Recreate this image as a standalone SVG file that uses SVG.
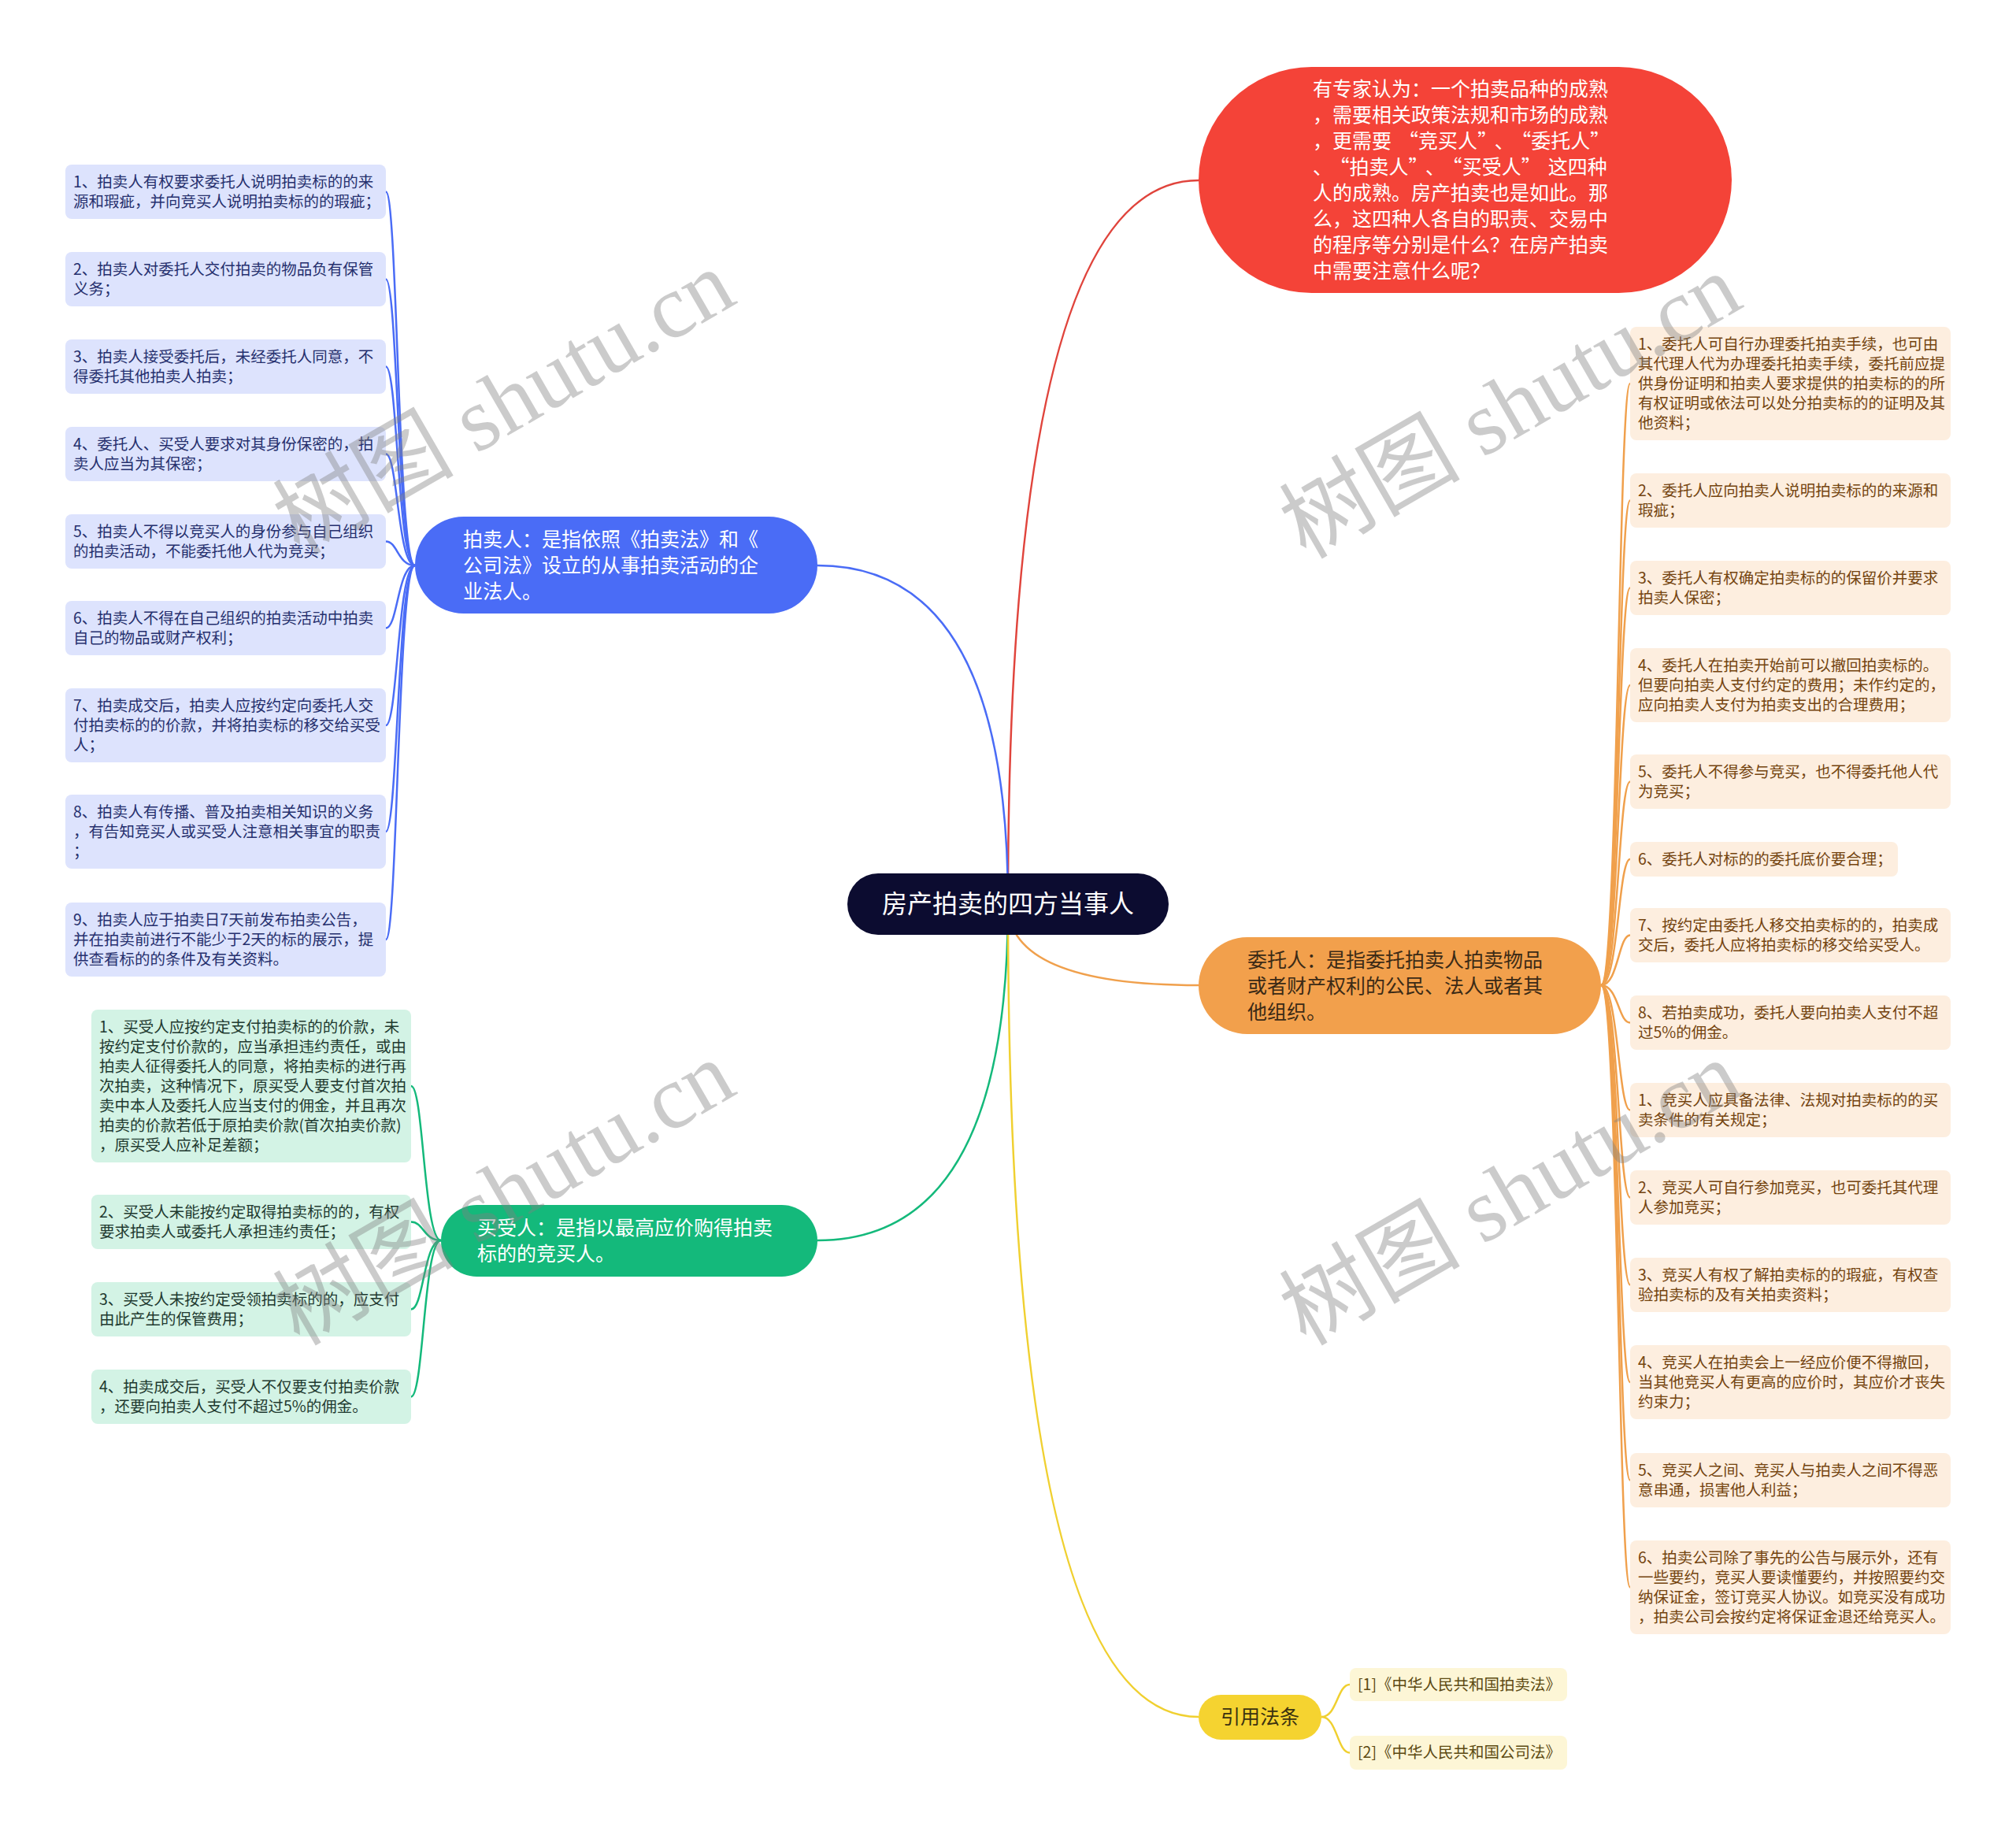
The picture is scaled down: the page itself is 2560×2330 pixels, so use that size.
<svg xmlns="http://www.w3.org/2000/svg" width="2560" height="2330" viewBox="0 0 2560 2330">
<style>
text{font-family:"Noto Sans CJK SC","Noto Sans",sans-serif}
.s{font-size:19.5px}
.m{font-size:25px}
.wm{font-family:"Liberation Serif","Noto Sans CJK SC",serif;font-size:115px;fill:#808080;opacity:.4}
.bb{fill:#dde3fd}.bt{fill:#26306e}
.ob{fill:#fdeedf}.ot{fill:#74440f}
.gb{fill:#d3f3e5}.gt{fill:#1f3a30}
.yb{fill:#fdf6d6}.yt{fill:#5c4a12}
.c{fill:none;stroke-width:2.5}
.cb{stroke:#4a6cf6}.co{stroke:#f0a04c}.cg{stroke:#14b97b}.cy{stroke:#f0d030}.cr{stroke:#e0443c}
</style>
<rect width="2560" height="2330" fill="#ffffff"/>
<g id="connectors">
<path class="c cr" d="M1280 1148 Q1280 229 1522 229"/>
<path class="c cb" d="M1280 1148 Q1280 718 1038 718"/>
<path class="c co" d="M1280 1148 Q1280 1251 1522 1251"/>
<path class="c cg" d="M1280 1148 Q1280 1575 1038 1575"/>
<path class="c cy" d="M1280 1148 Q1280 2180 1522 2180"/>
<g class="c cb" stroke-width="2">
<path d="M527 718 C505 718 505 243.5 490 243.5"/>
<path d="M527 718 C505 718 505 354.5 490 354.5"/>
<path d="M527 718 C505 718 505 465.5 490 465.5"/>
<path d="M527 718 C505 718 505 576.5 490 576.5"/>
<path d="M527 718 C505 718 505 687.5 490 687.5"/>
<path d="M527 718 C505 718 505 797.5 490 797.5"/>
<path d="M527 718 C505 718 505 921 490 921"/>
<path d="M527 718 C505 718 505 1056 490 1056"/>
<path d="M527 718 C505 718 505 1193 490 1193"/>
</g>
<g class="c co" stroke-width="2">
<path d="M2033 1251 C2055 1251 2055 487 2070 487"/>
<path d="M2033 1251 C2055 1251 2055 635.5 2070 635.5"/>
<path d="M2033 1251 C2055 1251 2055 746.5 2070 746.5"/>
<path d="M2033 1251 C2055 1251 2055 870 2070 870"/>
<path d="M2033 1251 C2055 1251 2055 992.5 2070 992.5"/>
<path d="M2033 1251 C2055 1251 2055 1091 2070 1091"/>
<path d="M2033 1251 C2055 1251 2055 1187.5 2070 1187.5"/>
<path d="M2033 1251 C2055 1251 2055 1298.5 2070 1298.5"/>
<path d="M2033 1251 C2055 1251 2055 1409.5 2070 1409.5"/>
<path d="M2033 1251 C2055 1251 2055 1520.5 2070 1520.5"/>
<path d="M2033 1251 C2055 1251 2055 1631.5 2070 1631.5"/>
<path d="M2033 1251 C2055 1251 2055 1755 2070 1755"/>
<path d="M2033 1251 C2055 1251 2055 1879.5 2070 1879.5"/>
<path d="M2033 1251 C2055 1251 2055 2015.5 2070 2015.5"/>
</g>
<g class="c cg" stroke-width="2">
<path d="M560 1575 C538 1575 538 1379 522 1379"/>
<path d="M560 1575 C538 1575 538 1551.5 522 1551.5"/>
<path d="M560 1575 C538 1575 538 1662.5 522 1662.5"/>
<path d="M560 1575 C538 1575 538 1773.5 522 1773.5"/>
</g>
<g class="c cy" stroke-width="2">
<path d="M1678 2180 C1698 2180 1698 2139 1714 2139"/>
<path d="M1678 2180 C1698 2180 1698 2225.5 1714 2225.5"/>
</g>
</g>

<g id="root">
<rect x="1076" y="1109" width="408" height="78" rx="39" fill="#0c0c30"/>
<text x="1280" y="1159" text-anchor="middle" font-size="32" fill="#ffffff">房产拍卖的四方当事人</text>
</g>

<g id="intro">
<rect x="1522" y="85" width="677" height="287" rx="143.5" fill="#f44338"/>
<g class="m" fill="#ffffff">
<text x="1667" y="122">有专家认为：一个拍卖品种的成熟</text>
<text x="1667" y="155">，需要相关政策法规和市场的成熟</text>
<text x="1667" y="188" dx="0 0 0 0 9 0 0 0 0 9 9 0 0 0 0">，更需要“竞买人”、“委托人”</text>
<text x="1667" y="221" dx="0 9 0 0 0 0 9 9 0 0 0 0 9 0 0">、“拍卖人”、“买受人”这四种</text>
<text x="1667" y="254">人的成熟。房产拍卖也是如此。那</text>
<text x="1667" y="287">么，这四种人各自的职责、交易中</text>
<text x="1667" y="320">的程序等分别是什么？在房产拍卖</text>
<text x="1667" y="353">中需要注意什么呢？</text>
</g>
</g>

<g id="auctioneer">
<rect x="527" y="656" width="511" height="123" rx="61.5" fill="#4a6cf6"/>
<g class="m" fill="#ffffff">
<text x="588" y="694">拍卖人：是指依照《拍卖法》和《</text>
<text x="588" y="727">公司法》设立的从事拍卖活动的企</text>
<text x="588" y="760">业法人。</text>
</g>
</g>

<g id="consignor">
<rect x="1522" y="1190" width="511" height="123" rx="61.5" fill="#f2a04c"/>
<g class="m" fill="#3b2a16">
<text x="1584" y="1228">委托人：是指委托拍卖人拍卖物品</text>
<text x="1584" y="1261">或者财产权利的公民、法人或者其</text>
<text x="1584" y="1294">他组织。</text>
</g>
</g>

<g id="buyer">
<rect x="560" y="1530" width="478" height="91" rx="45.5" fill="#14b97b"/>
<g class="m" fill="#ffffff">
<text x="606" y="1568">买受人：是指以最高应价购得拍卖</text>
<text x="606" y="1601">标的的竞买人。</text>
</g>
</g>

<g id="laws">
<rect x="1522" y="2152" width="156" height="57" rx="28.5" fill="#f5d330"/>
<text x="1600" y="2189" text-anchor="middle" class="m" fill="#3b3210">引用法条</text>
</g>

<g id="a1"><rect class="bb" x="83" y="209" width="407" height="69" rx="8"/><text class="s bt" x="93" y="238">1、拍卖人有权要求委托人说明拍卖标的的来</text><text class="s bt" x="93" y="263">源和瑕疵，并向竞买人说明拍卖标的的瑕疵；</text></g>
<g id="a2"><rect class="bb" x="83" y="320" width="407" height="69" rx="8"/><text class="s bt" x="93" y="349">2、拍卖人对委托人交付拍卖的物品负有保管</text><text class="s bt" x="93" y="374">义务；</text></g>
<g id="a3"><rect class="bb" x="83" y="431" width="407" height="69" rx="8"/><text class="s bt" x="93" y="460">3、拍卖人接受委托后，未经委托人同意，不</text><text class="s bt" x="93" y="485">得委托其他拍卖人拍卖；</text></g>
<g id="a4"><rect class="bb" x="83" y="542" width="407" height="69" rx="8"/><text class="s bt" x="93" y="571">4、委托人、买受人要求对其身份保密的，拍</text><text class="s bt" x="93" y="596">卖人应当为其保密；</text></g>
<g id="a5"><rect class="bb" x="83" y="653" width="407" height="69" rx="8"/><text class="s bt" x="93" y="682">5、拍卖人不得以竞买人的身份参与自己组织</text><text class="s bt" x="93" y="707">的拍卖活动，不能委托他人代为竞买；</text></g>
<g id="a6"><rect class="bb" x="83" y="763" width="407" height="69" rx="8"/><text class="s bt" x="93" y="792">6、拍卖人不得在自己组织的拍卖活动中拍卖</text><text class="s bt" x="93" y="817">自己的物品或财产权利；</text></g>
<g id="a7"><rect class="bb" x="83" y="874" width="407" height="94" rx="8"/><text class="s bt" x="93" y="903">7、拍卖成交后，拍卖人应按约定向委托人交</text><text class="s bt" x="93" y="928">付拍卖标的的价款，并将拍卖标的移交给买受</text><text class="s bt" x="93" y="953">人；</text></g>
<g id="a8"><rect class="bb" x="83" y="1009" width="407" height="94" rx="8"/><text class="s bt" x="93" y="1038">8、拍卖人有传播、普及拍卖相关知识的义务</text><text class="s bt" x="93" y="1063">，有告知竞买人或买受人注意相关事宜的职责</text><text class="s bt" x="93" y="1088">；</text></g>
<g id="a9"><rect class="bb" x="83" y="1146" width="407" height="94" rx="8"/><text class="s bt" x="93" y="1175">9、拍卖人应于拍卖日7天前发布拍卖公告，</text><text class="s bt" x="93" y="1200">并在拍卖前进行不能少于2天的标的展示，提</text><text class="s bt" x="93" y="1225">供查看标的的条件及有关资料。</text></g>

<g id="c1"><rect class="ob" x="2070" y="415" width="407" height="144" rx="8"/><text class="s ot" x="2080" y="444">1、委托人可自行办理委托拍卖手续，也可由</text><text class="s ot" x="2080" y="469">其代理人代为办理委托拍卖手续，委托前应提</text><text class="s ot" x="2080" y="494">供身份证明和拍卖人要求提供的拍卖标的的所</text><text class="s ot" x="2080" y="519">有权证明或依法可以处分拍卖标的的证明及其</text><text class="s ot" x="2080" y="544">他资料；</text></g>
<g id="c2"><rect class="ob" x="2070" y="601" width="407" height="69" rx="8"/><text class="s ot" x="2080" y="630">2、委托人应向拍卖人说明拍卖标的的来源和</text><text class="s ot" x="2080" y="655">瑕疵；</text></g>
<g id="c3"><rect class="ob" x="2070" y="712" width="407" height="69" rx="8"/><text class="s ot" x="2080" y="741">3、委托人有权确定拍卖标的的保留价并要求</text><text class="s ot" x="2080" y="766">拍卖人保密；</text></g>
<g id="c4"><rect class="ob" x="2070" y="823" width="407" height="94" rx="8"/><text class="s ot" x="2080" y="852">4、委托人在拍卖开始前可以撤回拍卖标的。</text><text class="s ot" x="2080" y="877">但要向拍卖人支付约定的费用；未作约定的，</text><text class="s ot" x="2080" y="902">应向拍卖人支付为拍卖支出的合理费用；</text></g>
<g id="c5"><rect class="ob" x="2070" y="958" width="407" height="69" rx="8"/><text class="s ot" x="2080" y="987">5、委托人不得参与竞买，也不得委托他人代</text><text class="s ot" x="2080" y="1012">为竞买；</text></g>
<g id="c6"><rect class="ob" x="2070" y="1069" width="340" height="44" rx="8"/><text class="s ot" x="2080" y="1098">6、委托人对标的的委托底价要合理；</text></g>
<g id="c7"><rect class="ob" x="2070" y="1153" width="407" height="69" rx="8"/><text class="s ot" x="2080" y="1182">7、按约定由委托人移交拍卖标的的，拍卖成</text><text class="s ot" x="2080" y="1207">交后，委托人应将拍卖标的移交给买受人。</text></g>
<g id="c8"><rect class="ob" x="2070" y="1264" width="407" height="69" rx="8"/><text class="s ot" x="2080" y="1293">8、若拍卖成功，委托人要向拍卖人支付不超</text><text class="s ot" x="2080" y="1318">过5%的佣金。</text></g>
<g id="c9"><rect class="ob" x="2070" y="1375" width="407" height="69" rx="8"/><text class="s ot" x="2080" y="1404">1、竞买人应具备法律、法规对拍卖标的的买</text><text class="s ot" x="2080" y="1429">卖条件的有关规定；</text></g>
<g id="c10"><rect class="ob" x="2070" y="1486" width="407" height="69" rx="8"/><text class="s ot" x="2080" y="1515">2、竞买人可自行参加竞买，也可委托其代理</text><text class="s ot" x="2080" y="1540">人参加竞买；</text></g>
<g id="c11"><rect class="ob" x="2070" y="1597" width="407" height="69" rx="8"/><text class="s ot" x="2080" y="1626">3、竞买人有权了解拍卖标的的瑕疵，有权查</text><text class="s ot" x="2080" y="1651">验拍卖标的及有关拍卖资料；</text></g>
<g id="c12"><rect class="ob" x="2070" y="1708" width="407" height="94" rx="8"/><text class="s ot" x="2080" y="1737">4、竞买人在拍卖会上一经应价便不得撤回，</text><text class="s ot" x="2080" y="1762">当其他竞买人有更高的应价时，其应价才丧失</text><text class="s ot" x="2080" y="1787">约束力；</text></g>
<g id="c13"><rect class="ob" x="2070" y="1845" width="407" height="69" rx="8"/><text class="s ot" x="2080" y="1874">5、竞买人之间、竞买人与拍卖人之间不得恶</text><text class="s ot" x="2080" y="1899">意串通，损害他人利益；</text></g>
<g id="c14"><rect class="ob" x="2070" y="1956" width="407" height="119" rx="8"/><text class="s ot" x="2080" y="1985">6、拍卖公司除了事先的公告与展示外，还有</text><text class="s ot" x="2080" y="2010">一些要约，竞买人要读懂要约，并按照要约交</text><text class="s ot" x="2080" y="2035">纳保证金，签订竞买人协议。如竞买没有成功</text><text class="s ot" x="2080" y="2060">，拍卖公司会按约定将保证金退还给竞买人。</text></g>

<g id="b1"><rect class="gb" x="116" y="1282" width="406" height="194" rx="8"/><text class="s gt" x="126" y="1311">1、买受人应按约定支付拍卖标的的价款，未</text><text class="s gt" x="126" y="1336">按约定支付价款的，应当承担违约责任，或由</text><text class="s gt" x="126" y="1361">拍卖人征得委托人的同意，将拍卖标的进行再</text><text class="s gt" x="126" y="1386">次拍卖，这种情况下，原买受人要支付首次拍</text><text class="s gt" x="126" y="1411">卖中本人及委托人应当支付的佣金，并且再次</text><text class="s gt" x="126" y="1436">拍卖的价款若低于原拍卖价款(首次拍卖价款)</text><text class="s gt" x="126" y="1461">，原买受人应补足差额；</text></g>
<g id="b2"><rect class="gb" x="116" y="1517" width="406" height="69" rx="8"/><text class="s gt" x="126" y="1546">2、买受人未能按约定取得拍卖标的的，有权</text><text class="s gt" x="126" y="1571">要求拍卖人或委托人承担违约责任；</text></g>
<g id="b3"><rect class="gb" x="116" y="1628" width="406" height="69" rx="8"/><text class="s gt" x="126" y="1657">3、买受人未按约定受领拍卖标的的，应支付</text><text class="s gt" x="126" y="1682">由此产生的保管费用；</text></g>
<g id="b4"><rect class="gb" x="116" y="1739" width="406" height="69" rx="8"/><text class="s gt" x="126" y="1768">4、拍卖成交后，买受人不仅要支付拍卖价款</text><text class="s gt" x="126" y="1793">，还要向拍卖人支付不超过5%的佣金。</text></g>

<g id="l1"><rect class="yb" x="1714" y="2118" width="276" height="42" rx="8"/><text class="s yt" x="1724" y="2146">[1]《中华人民共和国拍卖法》</text></g>
<g id="l2"><rect class="yb" x="1714" y="2204" width="276" height="43" rx="8"/><text class="s yt" x="1724" y="2232">[2]《中华人民共和国公司法》</text></g>

<g id="watermarks">
<text class="wm" x="640" y="550" text-anchor="middle" transform="rotate(-30 640 511)">树图 shutu.cn</text>
<text class="wm" x="1918" y="555" text-anchor="middle" transform="rotate(-30 1918 516)">树图 shutu.cn</text>
<text class="wm" x="640" y="1554" text-anchor="middle" transform="rotate(-30 640 1515)">树图 shutu.cn</text>
<text class="wm" x="1918" y="1554" text-anchor="middle" transform="rotate(-30 1918 1515)">树图 shutu.cn</text>
</g>
</svg>
